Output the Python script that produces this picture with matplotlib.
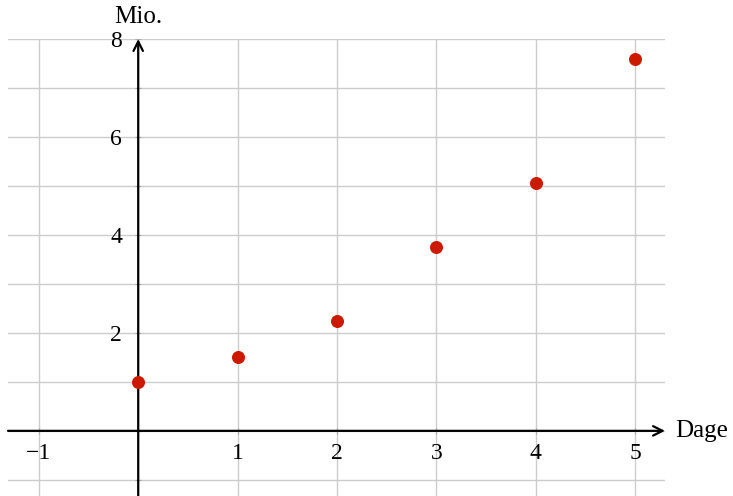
import matplotlib.pyplot as plt

# data
days = [0, 1, 2, 3, 4, 5]
millions = [1.0, 1.5, 2.25, 3.75, 5.06, 7.59]

x_ticks = [-1, 0, 1, 2, 3, 4, 5]
x_labels = ['\u22121', '', '1', '2', '3', '4', '5']
y_ticks = [-1, 0, 1, 2, 3, 4, 5, 6, 7, 8]
y_labels = ['', '', '', '2', '', '4', '', '6', '', '8']

plt.rcParams['font.family'] = ['Liberation Serif', 'DejaVu Serif']
plt.rcParams['font.size'] = 17

fig = plt.figure(figsize=(7.33, 4.96), dpi=100)
ax = fig.add_axes([8 / 733, 0, (665 - 8) / 733, (496 - 39) / 496])

xmin, xmax = -1.31, 5.30
ymin, ymax = -1.33, 8.0
ax.set_xlim(xmin, xmax)
ax.set_ylim(ymin, ymax)

for s in ['top', 'right']:
    ax.spines[s].set_visible(False)
ax.spines['left'].set_position('zero')
ax.spines['bottom'].set_position('zero')
ax.spines['left'].set_visible(False)
ax.spines['bottom'].set_visible(False)

ax.set_xticks(x_ticks)
ax.set_xticklabels(x_labels)
ax.set_yticks(y_ticks)
ax.set_yticklabels(y_labels)
ax.tick_params(axis='both', direction='inout', length=5, width=0.8,
               color='#aaaaaa', labelcolor='black')
ax.tick_params(axis='x', pad=6)
ax.tick_params(axis='y', pad=9)
ax.grid(True, color='#cccccc', linewidth=1.0, zorder=0)
ax.set_axisbelow(True)

# axes with arrows
ax.annotate('', xy=(xmax, 0), xytext=(xmin, 0),
            arrowprops=dict(arrowstyle='->', lw=1.6, color='black',
                            shrinkA=0, shrinkB=0), annotation_clip=False)
ax.annotate('', xy=(0, ymax), xytext=(0, ymin),
            arrowprops=dict(arrowstyle='->', lw=1.6, color='black',
                            shrinkA=0, shrinkB=0), annotation_clip=False)

ax.scatter(days, millions, s=70, color='#cc1a00', zorder=5, clip_on=False)

ax.text(xmax + 0.1, 0, 'Dage', ha='left', va='center', fontsize=18)
ax.annotate('Mio.', xy=(0, ymax), xytext=(0, 8), textcoords='offset points',
            ha='center', va='bottom', fontsize=18, annotation_clip=False)

fig.savefig('out.png', dpi=100)
